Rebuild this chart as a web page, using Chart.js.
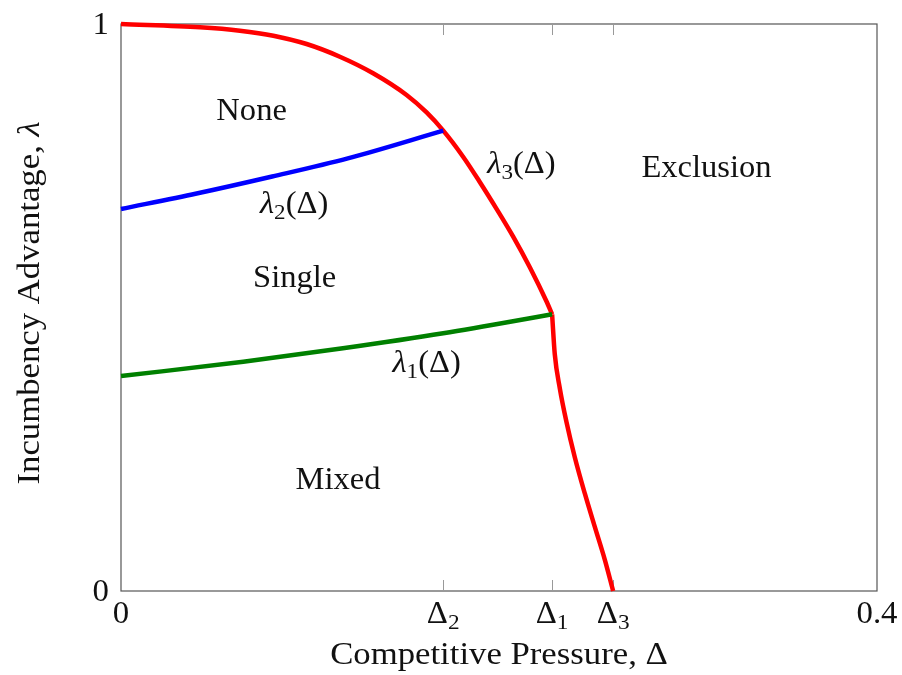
<!DOCTYPE html>
<html><head><meta charset="utf-8">
<script src="https://cdn.jsdelivr.net/npm/chart.js@4.4.1/dist/chart.umd.min.js"></script>
<style>html,body{margin:0;padding:0;background:#fff}</style>
</head><body>
<canvas id="c" width="902" height="675"></canvas>
<script>
// ---- data ----
const xTickValues = [0, 0.1705, 0.2281, 0.2604, 0.4];
const xTickLabels = ['0', 'Δ_2', 'Δ_1', 'Δ_3', '0.4'];
const yTickValues = [0, 1];
const yTickLabels = ['0', '1'];

const redUpperX = [0, 0.0418, 0.0629, 0.0806, 0.0982, 0.1158, 0.1334, 0.1511, 0.1617, 0.1705, 0.181, 0.1899, 0.1987, 0.2075, 0.2163, 0.2251, 0.2281];
const redUpperY = [1, 0.9942, 0.9882, 0.9794, 0.9647, 0.9423, 0.9131, 0.8748, 0.844, 0.812, 0.766, 0.721, 0.674, 0.625, 0.571, 0.511, 0.488];
const redLowerX = [0.2281, 0.2295, 0.2322, 0.2357, 0.2401, 0.2454, 0.2507, 0.256, 0.2604];
const redLowerY = [0.488, 0.418, 0.357, 0.298, 0.236, 0.172, 0.113, 0.055, 0];
const blueX = [0, 0.04, 0.08, 0.12, 0.1705];
const blueY = [0.6737, 0.701, 0.731, 0.763, 0.812];
const greenX = [0, 0.0647, 0.1174, 0.1705, 0.2281];
const greenY = [0.379, 0.4044, 0.428, 0.4545, 0.488];

const regionLabels = ['None', 'Single', 'Mixed', 'Exclusion', 'λ_1(Δ)', 'λ_2(Δ)', 'λ_3(Δ)'];
const regionLabelX = [0.0691, 0.0919, 0.1148, 0.3098, 0.1617, 0.0916, 0.2119];
const regionLabelY = [0.8307, 0.5367, 0.1794, 0.7296, 0.3868, 0.6661, 0.7367];

const xTitle = 'Competitive Pressure, Δ';
const yTitle = 'Incumbency Advantage, λ';

// ---- helpers ----
const FONT = '"Liberation Serif", "Times New Roman", serif';
const SIZE = 31;
function pts(xs, ys) { return xs.map((x, i) => ({x, y: ys[i]})); }
function partsOf(s) {
  const out = [];
  for (let i = 0; i < s.length; i++) {
    const ch = s[i];
    if (ch === '_') { out.push({t: s[i + 1], sub: true}); i++; continue; }
    const it = ch === 'λ';
    const last = out[out.length - 1];
    if (last && !last.sub && last.it === it) last.t += ch; else out.push({t: ch, it});
  }
  return out;
}
function fontFor(p, size) { return (p.it ? 'italic ' : '') + (p.sub ? Math.round(size * 0.7) : size) + 'px ' + FONT; }
function drawLabel(ctx, s, x, y, align, size, sx, rot) {
  const parts = partsOf(s);
  ctx.save();
  ctx.translate(x, y);
  if (rot) ctx.rotate(rot);
  ctx.scale(sx, 1);
  let w = 0;
  for (const p of parts) { ctx.font = fontFor(p, size); w += ctx.measureText(p.t).width; }
  let cx = align === 'center' ? -w / 2 : align === 'right' ? -w : 0;
  ctx.textBaseline = 'alphabetic';
  ctx.textAlign = 'left';
  ctx.fillStyle = '#111';
  for (const p of parts) {
    ctx.font = fontFor(p, size);
    ctx.fillText(p.t, cx, p.sub ? size * 0.19 : 0);
    cx += ctx.measureText(p.t).width;
  }
  ctx.restore();
}

const decor = {
  id: 'decor',
  beforeDatasetsDraw(chart) {
    const {ctx, chartArea: a} = chart;
    ctx.save();
    ctx.strokeStyle = '#555';
    ctx.lineWidth = 1.2;
    ctx.strokeRect(a.left, a.top, a.right - a.left, a.bottom - a.top);
    ctx.strokeStyle = '#999';
    ctx.lineWidth = 1;
    const xs = chart.scales.x;
    xTickValues.forEach(v => {
      const px = Math.round(xs.getPixelForValue(v)) + 0.5;
      if (px <= a.left + 1 || px >= a.right - 1) return;
      ctx.beginPath();
      ctx.moveTo(px, a.bottom); ctx.lineTo(px, a.bottom - 11);
      ctx.moveTo(px, a.top); ctx.lineTo(px, a.top + 11);
      ctx.stroke();
    });
    ctx.restore();
  },
  afterDraw(chart) {
    const {ctx, chartArea: a} = chart;
    const xs = chart.scales.x, ys = chart.scales.y;
    xTickValues.forEach((v, i) => drawLabel(ctx, xTickLabels[i], xs.getPixelForValue(v), a.bottom + 32, 'center', SIZE, 1.06));
    yTickValues.forEach((v, i) => drawLabel(ctx, yTickLabels[i], a.left - 12, ys.getPixelForValue(v) + 10, 'right', SIZE, 1.06));
    regionLabels.forEach((s, i) => drawLabel(ctx, s, xs.getPixelForValue(regionLabelX[i]), ys.getPixelForValue(regionLabelY[i]), 'center', SIZE, 1.05));
    drawLabel(ctx, xTitle, (a.left + a.right) / 2, a.bottom + 73, 'center', SIZE, 1.12);
    drawLabel(ctx, yTitle, 39, 303, 'center', SIZE, 1.12, -Math.PI / 2);
  }
};

function line(xs, ys, color) {
  return {data: pts(xs, ys), borderColor: color, backgroundColor: color, borderWidth: 4.5,
    showLine: true, pointRadius: 0, cubicInterpolationMode: 'monotone', clip: false,
    borderCapStyle: 'butt', borderJoinStyle: 'round'};
}

new Chart(document.getElementById('c'), {
  type: 'scatter',
  data: {datasets: [
    line(blueX, blueY, '#0000ff'),
    line(greenX, greenY, '#008000'),
    line(redUpperX, redUpperY, '#ff0000'),
    line(redLowerX, redLowerY, '#ff0000')
  ]},
  options: {
    responsive: false, animation: false, devicePixelRatio: 1,
    layout: {padding: {left: 121, right: 25, top: 24, bottom: 84}},
    plugins: {legend: {display: false}, tooltip: {enabled: false}},
    scales: {
      x: {type: 'linear', min: 0, max: 0.4, display: false},
      y: {type: 'linear', min: 0, max: 1, display: false}
    }
  },
  plugins: [decor]
});
</script>
</body></html>
